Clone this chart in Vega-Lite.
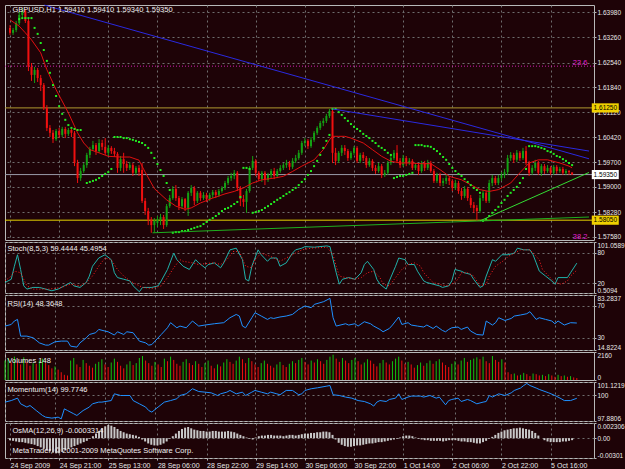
{
"$schema":"https://vega.github.io/schema/vega-lite/v6.json",
"background":"#1e0307",
"padding":{"left":2,"top":2,"right":0,"bottom":0},
"spacing":2,
"bounds":"flush",
"resolve":{"scale":{"x":"independent","y":"independent"}},
"config":{
 "view":{"stroke":"#b8b8b8","strokeWidth":1,"fill":null},
 "axis":{"title":null,"domain":false,"grid":true,"gridColor":"#6e6e6e","gridDash":[2,3],"gridWidth":1,"labelColor":"#e8e8e8","labelFont":"Liberation Sans, Arial, sans-serif","labelFontSize":6.5,"tickColor":"#b8b8b8","tickSize":2,"labelPadding":1,"labelOverlap":false,"labelLimit":40},
 "text":{"font":"Liberation Sans, Arial, sans-serif","fontSize":7.5,"color":"#f0f0f0"}
},
"datasets":{
"candles":[
{"i":0,"o":1.6353,"h":1.6361,"l":1.6333,"c":1.6339,"v":1500,"os":-0.0003},
{"i":1,"o":1.6339,"h":1.6353,"l":1.6333,"c":1.6347,"v":1700,"os":-0.0004},
{"i":2,"o":1.6347,"h":1.6373,"l":1.6341,"c":1.6367,"v":1350,"os":-0.0005},
{"i":3,"o":1.6367,"h":1.6398,"l":1.6361,"c":1.6390,"v":1800,"os":-0.0006},
{"i":4,"o":1.6390,"h":1.6410,"l":1.6384,"c":1.6401,"v":1450,"os":-0.0006},
{"i":5,"o":1.6401,"h":1.6407,"l":1.6367,"c":1.6373,"v":1200,"os":-0.0007},
{"i":6,"o":1.6373,"h":1.6381,"l":1.6230,"c":1.6242,"v":1750,"os":-0.0008},
{"i":7,"o":1.6242,"h":1.6253,"l":1.6202,"c":1.6219,"v":1400,"os":-0.0009},
{"i":8,"o":1.6219,"h":1.6242,"l":1.6196,"c":1.6233,"v":1100,"os":-0.0010},
{"i":9,"o":1.6233,"h":1.6239,"l":1.6199,"c":1.6210,"v":1300,"os":-0.0012},
{"i":10,"o":1.6210,"h":1.6219,"l":1.6173,"c":1.6190,"v":1250,"os":-0.0014},
{"i":11,"o":1.6190,"h":1.6196,"l":1.6119,"c":1.6125,"v":1500,"os":-0.0016},
{"i":12,"o":1.6125,"h":1.6133,"l":1.6059,"c":1.6068,"v":1650,"os":-0.0018},
{"i":13,"o":1.6068,"h":1.6076,"l":1.6042,"c":1.6054,"v":1300,"os":-0.0020},
{"i":14,"o":1.6054,"h":1.6062,"l":1.6025,"c":1.6036,"v":1150,"os":-0.0022},
{"i":15,"o":1.6036,"h":1.6065,"l":1.6031,"c":1.6059,"v":900,"os":-0.0023},
{"i":16,"o":1.6059,"h":1.6068,"l":1.6039,"c":1.6048,"v":1050,"os":-0.0023},
{"i":17,"o":1.6048,"h":1.6071,"l":1.6042,"c":1.6065,"v":800,"os":-0.0021},
{"i":18,"o":1.6065,"h":1.6071,"l":1.6039,"c":1.6051,"v":600,"os":-0.0018},
{"i":19,"o":1.6051,"h":1.6068,"l":1.6045,"c":1.6062,"v":400,"os":-0.0016},
{"i":20,"o":1.6062,"h":1.6065,"l":1.6042,"c":1.6054,"v":350,"os":-0.0014},
{"i":21,"o":1.6054,"h":1.6059,"l":1.5959,"c":1.5968,"v":1500,"os":-0.0012},
{"i":22,"o":1.5968,"h":1.5977,"l":1.5911,"c":1.5925,"v":1700,"os":-0.0010},
{"i":23,"o":1.5925,"h":1.5954,"l":1.5917,"c":1.5945,"v":1200,"os":-0.0008},
{"i":24,"o":1.5945,"h":1.5968,"l":1.5940,"c":1.5962,"v":1000,"os":-0.0006},
{"i":25,"o":1.5962,"h":1.5997,"l":1.5954,"c":1.5991,"v":1550,"os":-0.0004},
{"i":26,"o":1.5991,"h":1.6014,"l":1.5982,"c":1.6008,"v":1300,"os":-0.0001},
{"i":27,"o":1.6008,"h":1.6031,"l":1.6002,"c":1.6019,"v":1100,"os":0.0003},
{"i":28,"o":1.6019,"h":1.6025,"l":1.5991,"c":1.6002,"v":950,"os":0.0007},
{"i":29,"o":1.6002,"h":1.6036,"l":1.5997,"c":1.6025,"v":1250,"os":0.0011},
{"i":30,"o":1.6025,"h":1.6034,"l":1.6005,"c":1.6014,"v":1400,"os":0.0015},
{"i":31,"o":1.6014,"h":1.6039,"l":1.5991,"c":1.5997,"v":1600,"os":0.0018},
{"i":32,"o":1.5997,"h":1.6019,"l":1.5988,"c":1.6011,"v":1200,"os":0.0020},
{"i":33,"o":1.6011,"h":1.6016,"l":1.5994,"c":1.6002,"v":1000,"os":0.0019},
{"i":34,"o":1.6002,"h":1.6011,"l":1.5985,"c":1.5994,"v":1350,"os":0.0017},
{"i":35,"o":1.5994,"h":1.5999,"l":1.5940,"c":1.5954,"v":1650,"os":0.0014},
{"i":36,"o":1.5954,"h":1.5988,"l":1.5945,"c":1.5979,"v":1400,"os":0.0011},
{"i":37,"o":1.5979,"h":1.5997,"l":1.5940,"c":1.5965,"v":1100,"os":0.0009},
{"i":38,"o":1.5965,"h":1.5974,"l":1.5945,"c":1.5954,"v":900,"os":0.0007},
{"i":39,"o":1.5954,"h":1.5971,"l":1.5948,"c":1.5962,"v":1200,"os":0.0006},
{"i":40,"o":1.5962,"h":1.5968,"l":1.5931,"c":1.5940,"v":1450,"os":0.0005},
{"i":41,"o":1.5940,"h":1.5959,"l":1.5934,"c":1.5954,"v":1150,"os":0.0004},
{"i":42,"o":1.5954,"h":1.5962,"l":1.5931,"c":1.5942,"v":1300,"os":0.0002},
{"i":43,"o":1.5948,"h":1.5968,"l":1.5854,"c":1.5860,"v":1700,"os":-0.0002},
{"i":44,"o":1.5860,"h":1.5868,"l":1.5820,"c":1.5831,"v":1850,"os":-0.0005},
{"i":45,"o":1.5831,"h":1.5840,"l":1.5791,"c":1.5806,"v":1500,"os":-0.0008},
{"i":46,"o":1.5806,"h":1.5814,"l":1.5769,"c":1.5791,"v":1300,"os":-0.0010},
{"i":47,"o":1.5791,"h":1.5811,"l":1.5771,"c":1.5803,"v":1100,"os":-0.0011},
{"i":48,"o":1.5797,"h":1.5817,"l":1.5786,"c":1.5808,"v":1400,"os":-0.0011},
{"i":49,"o":1.5806,"h":1.5823,"l":1.5791,"c":1.5814,"v":1200,"os":-0.0010},
{"i":50,"o":1.5814,"h":1.5820,"l":1.5780,"c":1.5791,"v":1000,"os":-0.0008},
{"i":51,"o":1.5791,"h":1.5851,"l":1.5786,"c":1.5845,"v":1650,"os":-0.0005},
{"i":52,"o":1.5845,"h":1.5877,"l":1.5840,"c":1.5868,"v":1450,"os":-0.0001},
{"i":53,"o":1.5868,"h":1.5902,"l":1.5863,"c":1.5894,"v":1800,"os":0.0003},
{"i":54,"o":1.5894,"h":1.5905,"l":1.5860,"c":1.5868,"v":1550,"os":0.0007},
{"i":55,"o":1.5868,"h":1.5874,"l":1.5834,"c":1.5845,"v":1250,"os":0.0011},
{"i":56,"o":1.5845,"h":1.5871,"l":1.5837,"c":1.5865,"v":1100,"os":0.0014},
{"i":57,"o":1.5865,"h":1.5868,"l":1.5831,"c":1.5840,"v":1400,"os":0.0016},
{"i":58,"o":1.5840,"h":1.5888,"l":1.5817,"c":1.5883,"v":1600,"os":0.0017},
{"i":59,"o":1.5883,"h":1.5905,"l":1.5874,"c":1.5897,"v":1300,"os":0.0015},
{"i":60,"o":1.5897,"h":1.5902,"l":1.5848,"c":1.5860,"v":1150,"os":0.0013},
{"i":61,"o":1.5860,"h":1.5888,"l":1.5854,"c":1.5883,"v":1450,"os":0.0012},
{"i":62,"o":1.5883,"h":1.5888,"l":1.5860,"c":1.5868,"v":1250,"os":0.0011},
{"i":63,"o":1.5868,"h":1.5885,"l":1.5863,"c":1.5877,"v":1000,"os":0.0011},
{"i":64,"o":1.5877,"h":1.5883,"l":1.5857,"c":1.5865,"v":1300,"os":0.0010},
{"i":65,"o":1.5865,"h":1.5883,"l":1.5860,"c":1.5877,"v":1500,"os":0.0010},
{"i":66,"o":1.5877,"h":1.5891,"l":1.5868,"c":1.5885,"v":1100,"os":0.0011},
{"i":67,"o":1.5885,"h":1.5891,"l":1.5868,"c":1.5877,"v":900,"os":0.0011},
{"i":68,"o":1.5877,"h":1.5894,"l":1.5871,"c":1.5888,"v":1200,"os":0.0010},
{"i":69,"o":1.5888,"h":1.5902,"l":1.5883,"c":1.5897,"v":1050,"os":0.0010},
{"i":70,"o":1.5897,"h":1.5917,"l":1.5891,"c":1.5911,"v":1350,"os":0.0010},
{"i":71,"o":1.5911,"h":1.5931,"l":1.5905,"c":1.5925,"v":1600,"os":0.0011},
{"i":72,"o":1.5925,"h":1.5940,"l":1.5917,"c":1.5931,"v":1400,"os":0.0010},
{"i":73,"o":1.5931,"h":1.5948,"l":1.5922,"c":1.5940,"v":1250,"os":0.0009},
{"i":74,"o":1.5940,"h":1.5945,"l":1.5888,"c":1.5897,"v":1500,"os":0.0007},
{"i":75,"o":1.5897,"h":1.5902,"l":1.5845,"c":1.5865,"v":1800,"os":0.0005},
{"i":76,"o":1.5865,"h":1.5877,"l":1.5843,"c":1.5857,"v":1600,"os":0.0003},
{"i":77,"o":1.5857,"h":1.5894,"l":1.5826,"c":1.5888,"v":1300,"os":0.0001},
{"i":78,"o":1.5888,"h":1.5959,"l":1.5883,"c":1.5954,"v":1700,"os":-0.0001},
{"i":79,"o":1.5954,"h":1.5988,"l":1.5948,"c":1.5974,"v":1450,"os":-0.0002},
{"i":80,"o":1.5974,"h":1.5979,"l":1.5931,"c":1.5940,"v":1200,"os":0.0001},
{"i":81,"o":1.5940,"h":1.5945,"l":1.5917,"c":1.5922,"v":1000,"os":0.0003},
{"i":82,"o":1.5922,"h":1.5945,"l":1.5914,"c":1.5940,"v":1300,"os":0.0004},
{"i":83,"o":1.5940,"h":1.5945,"l":1.5905,"c":1.5920,"v":1500,"os":0.0004},
{"i":84,"o":1.5920,"h":1.5940,"l":1.5914,"c":1.5934,"v":1250,"os":0.0005},
{"i":85,"o":1.5934,"h":1.5951,"l":1.5925,"c":1.5945,"v":1100,"os":0.0005},
{"i":86,"o":1.5945,"h":1.5954,"l":1.5922,"c":1.5931,"v":950,"os":0.0004},
{"i":87,"o":1.5931,"h":1.5951,"l":1.5925,"c":1.5945,"v":1200,"os":0.0004},
{"i":88,"o":1.5945,"h":1.5962,"l":1.5940,"c":1.5954,"v":1400,"os":0.0004},
{"i":89,"o":1.5954,"h":1.5968,"l":1.5948,"c":1.5962,"v":1150,"os":0.0003},
{"i":90,"o":1.5962,"h":1.5977,"l":1.5954,"c":1.5968,"v":1000,"os":0.0004},
{"i":91,"o":1.5968,"h":1.5974,"l":1.5948,"c":1.5957,"v":1250,"os":0.0005},
{"i":92,"o":1.5957,"h":1.5982,"l":1.5951,"c":1.5974,"v":1450,"os":0.0005},
{"i":93,"o":1.5974,"h":1.5991,"l":1.5968,"c":1.5982,"v":1300,"os":0.0004},
{"i":94,"o":1.5982,"h":1.6005,"l":1.5977,"c":1.5997,"v":1550,"os":0.0005},
{"i":95,"o":1.5997,"h":1.6031,"l":1.5991,"c":1.6025,"v":1700,"os":0.0006},
{"i":96,"o":1.6025,"h":1.6039,"l":1.6016,"c":1.6031,"v":1400,"os":0.0007},
{"i":97,"o":1.6031,"h":1.6036,"l":1.6008,"c":1.6016,"v":1200,"os":0.0007},
{"i":98,"o":1.6016,"h":1.6042,"l":1.6011,"c":1.6034,"v":1500,"os":0.0008},
{"i":99,"o":1.6034,"h":1.6059,"l":1.6028,"c":1.6054,"v":1350,"os":0.0008},
{"i":100,"o":1.6054,"h":1.6073,"l":1.6048,"c":1.6068,"v":1600,"os":0.0009},
{"i":101,"o":1.6068,"h":1.6088,"l":1.6062,"c":1.6082,"v":1450,"os":0.0009},
{"i":102,"o":1.6082,"h":1.6096,"l":1.6073,"c":1.6088,"v":1250,"os":0.0010},
{"i":103,"o":1.6088,"h":1.6108,"l":1.6082,"c":1.6102,"v":1550,"os":0.0010},
{"i":104,"o":1.6102,"h":1.6122,"l":1.6096,"c":1.6116,"v":1800,"os":0.0009},
{"i":105,"o":1.6116,"h":1.6122,"l":1.5968,"c":1.5997,"v":1950,"os":0.0005},
{"i":106,"o":1.5997,"h":1.6011,"l":1.5962,"c":1.5974,"v":1650,"os":-0.0002},
{"i":107,"o":1.5974,"h":1.6002,"l":1.5968,"c":1.5997,"v":1400,"os":-0.0007},
{"i":108,"o":1.5997,"h":1.6019,"l":1.5988,"c":1.6011,"v":1700,"os":-0.0010},
{"i":109,"o":1.6011,"h":1.6019,"l":1.5991,"c":1.6002,"v":1500,"os":-0.0012},
{"i":110,"o":1.6002,"h":1.6008,"l":1.5974,"c":1.5982,"v":1300,"os":-0.0013},
{"i":111,"o":1.5982,"h":1.6002,"l":1.5977,"c":1.5997,"v":1550,"os":-0.0013},
{"i":112,"o":1.5997,"h":1.6016,"l":1.5991,"c":1.6011,"v":1700,"os":-0.0012},
{"i":113,"o":1.6011,"h":1.6016,"l":1.5968,"c":1.5974,"v":1450,"os":-0.0011},
{"i":114,"o":1.5974,"h":1.5997,"l":1.5968,"c":1.5991,"v":1200,"os":-0.0011},
{"i":115,"o":1.5991,"h":1.5999,"l":1.5974,"c":1.5982,"v":1350,"os":-0.0010},
{"i":116,"o":1.5982,"h":1.5988,"l":1.5954,"c":1.5962,"v":1600,"os":-0.0009},
{"i":117,"o":1.5962,"h":1.5982,"l":1.5957,"c":1.5974,"v":1500,"os":-0.0008},
{"i":118,"o":1.5974,"h":1.5979,"l":1.5945,"c":1.5954,"v":1250,"os":-0.0008},
{"i":119,"o":1.5954,"h":1.5962,"l":1.5937,"c":1.5945,"v":1050,"os":-0.0007},
{"i":120,"o":1.5945,"h":1.5968,"l":1.5940,"c":1.5959,"v":1300,"os":-0.0006},
{"i":121,"o":1.5959,"h":1.5965,"l":1.5925,"c":1.5934,"v":1550,"os":-0.0006},
{"i":122,"o":1.5934,"h":1.5948,"l":1.5928,"c":1.5940,"v":1350,"os":-0.0005},
{"i":123,"o":1.5940,"h":1.5974,"l":1.5934,"c":1.5968,"v":1200,"os":-0.0004},
{"i":124,"o":1.5968,"h":1.5991,"l":1.5962,"c":1.5982,"v":1450,"os":-0.0003},
{"i":125,"o":1.5982,"h":1.6005,"l":1.5977,"c":1.5997,"v":1650,"os":-0.0002},
{"i":126,"o":1.5997,"h":1.6019,"l":1.5968,"c":1.5974,"v":1800,"os":-0.0001},
{"i":127,"o":1.5974,"h":1.5982,"l":1.5954,"c":1.5962,"v":1500,"os":0.0001},
{"i":128,"o":1.5962,"h":1.5991,"l":1.5957,"c":1.5982,"v":1250,"os":0.0003},
{"i":129,"o":1.5982,"h":1.5988,"l":1.5959,"c":1.5968,"v":1400,"os":0.0004},
{"i":130,"o":1.5968,"h":1.5982,"l":1.5962,"c":1.5974,"v":1200,"os":0.0004},
{"i":131,"o":1.5974,"h":1.5979,"l":1.5948,"c":1.5954,"v":950,"os":0.0003},
{"i":132,"o":1.5954,"h":1.5968,"l":1.5948,"c":1.5962,"v":1150,"os":0.0001},
{"i":133,"o":1.5962,"h":1.5968,"l":1.5934,"c":1.5945,"v":1350,"os":-0.0001},
{"i":134,"o":1.5945,"h":1.5974,"l":1.5940,"c":1.5968,"v":1100,"os":-0.0002},
{"i":135,"o":1.5968,"h":1.5974,"l":1.5945,"c":1.5954,"v":1300,"os":-0.0003},
{"i":136,"o":1.5954,"h":1.5977,"l":1.5948,"c":1.5968,"v":1500,"os":-0.0003},
{"i":137,"o":1.5968,"h":1.5974,"l":1.5940,"c":1.5945,"v":1250,"os":-0.0004},
{"i":138,"o":1.5945,"h":1.5951,"l":1.5911,"c":1.5917,"v":1450,"os":-0.0004},
{"i":139,"o":1.5917,"h":1.5940,"l":1.5911,"c":1.5934,"v":1600,"os":-0.0004},
{"i":140,"o":1.5934,"h":1.5940,"l":1.5902,"c":1.5911,"v":1350,"os":-0.0004},
{"i":141,"o":1.5911,"h":1.5925,"l":1.5902,"c":1.5917,"v":1150,"os":-0.0005},
{"i":142,"o":1.5917,"h":1.5934,"l":1.5908,"c":1.5925,"v":1000,"os":-0.0004},
{"i":143,"o":1.5925,"h":1.5931,"l":1.5905,"c":1.5917,"v":1250,"os":-0.0003},
{"i":144,"o":1.5917,"h":1.5922,"l":1.5888,"c":1.5897,"v":1450,"os":-0.0003},
{"i":145,"o":1.5897,"h":1.5920,"l":1.5891,"c":1.5911,"v":1200,"os":-0.0003},
{"i":146,"o":1.5911,"h":1.5917,"l":1.5880,"c":1.5888,"v":1500,"os":-0.0004},
{"i":147,"o":1.5888,"h":1.5897,"l":1.5863,"c":1.5874,"v":1700,"os":-0.0005},
{"i":148,"o":1.5874,"h":1.5902,"l":1.5868,"c":1.5894,"v":1400,"os":-0.0005},
{"i":149,"o":1.5894,"h":1.5900,"l":1.5860,"c":1.5868,"v":1550,"os":-0.0006},
{"i":150,"o":1.5868,"h":1.5877,"l":1.5840,"c":1.5848,"v":1650,"os":-0.0006},
{"i":151,"o":1.5848,"h":1.5857,"l":1.5826,"c":1.5840,"v":1750,"os":-0.0007},
{"i":152,"o":1.5840,"h":1.5848,"l":1.5803,"c":1.5831,"v":1600,"os":-0.0008},
{"i":153,"o":1.5831,"h":1.5877,"l":1.5826,"c":1.5868,"v":1800,"os":-0.0008},
{"i":154,"o":1.5868,"h":1.5891,"l":1.5860,"c":1.5883,"v":1450,"os":-0.0006},
{"i":155,"o":1.5883,"h":1.5888,"l":1.5854,"c":1.5860,"v":1300,"os":-0.0004},
{"i":156,"o":1.5860,"h":1.5920,"l":1.5854,"c":1.5911,"v":1850,"os":-0.0001},
{"i":157,"o":1.5911,"h":1.5934,"l":1.5902,"c":1.5925,"v":1550,"os":0.0002},
{"i":158,"o":1.5925,"h":1.5931,"l":1.5905,"c":1.5911,"v":1400,"os":0.0005},
{"i":159,"o":1.5911,"h":1.5934,"l":1.5905,"c":1.5925,"v":1600,"os":0.0008},
{"i":160,"o":1.5925,"h":1.5942,"l":1.5917,"c":1.5934,"v":1350,"os":0.0010},
{"i":161,"o":1.5934,"h":1.5951,"l":1.5925,"c":1.5942,"v":600,"os":0.0012},
{"i":162,"o":1.5942,"h":1.5991,"l":1.5934,"c":1.5982,"v":450,"os":0.0013},
{"i":163,"o":1.5982,"h":1.5999,"l":1.5974,"c":1.5991,"v":500,"os":0.0014},
{"i":164,"o":1.5991,"h":1.5997,"l":1.5968,"c":1.5977,"v":350,"os":0.0015},
{"i":165,"o":1.5977,"h":1.6005,"l":1.5971,"c":1.5997,"v":400,"os":0.0015},
{"i":166,"o":1.5997,"h":1.6002,"l":1.5974,"c":1.5982,"v":550,"os":0.0016},
{"i":167,"o":1.5982,"h":1.6011,"l":1.5977,"c":1.6002,"v":450,"os":0.0015},
{"i":168,"o":1.6002,"h":1.6016,"l":1.5962,"c":1.5968,"v":300,"os":0.0014},
{"i":169,"o":1.5968,"h":1.5974,"l":1.5931,"c":1.5940,"v":500,"os":0.0013},
{"i":170,"o":1.5940,"h":1.5962,"l":1.5934,"c":1.5954,"v":450,"os":0.0011},
{"i":171,"o":1.5954,"h":1.5977,"l":1.5945,"c":1.5968,"v":350,"os":0.0008},
{"i":172,"o":1.5968,"h":1.5974,"l":1.5934,"c":1.5940,"v":400,"os":0.0004},
{"i":173,"o":1.5940,"h":1.5965,"l":1.5931,"c":1.5959,"v":300,"os":0.0000},
{"i":174,"o":1.5959,"h":1.5965,"l":1.5937,"c":1.5945,"v":450,"os":-0.0003},
{"i":175,"o":1.5945,"h":1.5962,"l":1.5940,"c":1.5954,"v":350,"os":-0.0005},
{"i":176,"o":1.5954,"h":1.5959,"l":1.5934,"c":1.5940,"v":250,"os":-0.0006},
{"i":177,"o":1.5940,"h":1.5962,"l":1.5934,"c":1.5957,"v":400,"os":-0.0006},
{"i":178,"o":1.5957,"h":1.5962,"l":1.5937,"c":1.5945,"v":300,"os":-0.0006},
{"i":179,"o":1.5945,"h":1.5957,"l":1.5940,"c":1.5951,"v":350,"os":-0.0006},
{"i":180,"o":1.5951,"h":1.5957,"l":1.5934,"c":1.5940,"v":250,"os":-0.0005},
{"i":181,"o":1.5940,"h":1.5951,"l":1.5934,"c":1.5945,"v":300,"os":-0.0005},
{"i":182,"o":1.5945,"h":1.5948,"l":1.5934,"c":1.5942,"v":200,"os":-0.0004},
{"i":183,"o":1.5941,"h":1.5941,"l":1.5934,"c":1.5935,"v":148,"os":-0.0003}
],
"ma":[
{"i":0,"p":1.6376},{"i":3,"p":1.6358},{"i":5,"p":1.6339},{"i":7,"p":1.6319},{"i":10,"p":1.6282},{"i":12,"p":1.6234},{"i":15,"p":1.6177},{"i":19,"p":1.6111},{"i":22,"p":1.6054},{"i":24,"p":1.6025},{"i":26,"p":1.6006},{"i":29,"p":1.5997},{"i":32,"p":1.5987},{"i":36,"p":1.5985},{"i":39,"p":1.5985},{"i":42,"p":1.5976},{"i":44,"p":1.5942},{"i":47,"p":1.5895},{"i":51,"p":1.5863},{"i":54,"p":1.5845},{"i":57,"p":1.5836},{"i":59,"p":1.5840},{"i":62,"p":1.5854},{"i":66,"p":1.5868},{"i":70,"p":1.5880},{"i":73,"p":1.5887},{"i":76,"p":1.5897},{"i":79,"p":1.5911},{"i":82,"p":1.5920},{"i":86,"p":1.5925},{"i":89,"p":1.5930},{"i":92,"p":1.5944},{"i":95,"p":1.5959},{"i":99,"p":1.5977},{"i":102,"p":1.6006},{"i":104,"p":1.6034},{"i":105,"p":1.6044},{"i":107,"p":1.6044},{"i":109,"p":1.6044},{"i":111,"p":1.6039},{"i":115,"p":1.6025},{"i":118,"p":1.6006},{"i":121,"p":1.5987},{"i":124,"p":1.5973},{"i":127,"p":1.5968},{"i":130,"p":1.5968},{"i":134,"p":1.5966},{"i":137,"p":1.5966},{"i":140,"p":1.5949},{"i":143,"p":1.5930},{"i":147,"p":1.5920},{"i":150,"p":1.5906},{"i":153,"p":1.5892},{"i":156,"p":1.5887},{"i":159,"p":1.5892},{"i":163,"p":1.5911},{"i":166,"p":1.5940},{"i":169,"p":1.5968},{"i":172,"p":1.5977},{"i":175,"p":1.5977},{"i":179,"p":1.5968},{"i":182,"p":1.5959},{"i":183,"p":1.5954}
],
"sar":[
{"i":3,"p":1.6378},{"i":4,"p":1.6381},{"i":5,"p":1.6381},{"i":6,"p":1.6381},{"i":7,"p":1.6381},
{"i":8,"p":1.6353},{"i":9,"p":1.6336},{"i":10,"p":1.6310},{"i":11,"p":1.6290},{"i":12,"p":1.6259},{"i":13,"p":1.6225},{"i":14,"p":1.6190},{"i":15,"p":1.6159},{"i":16,"p":1.6130},{"i":17,"p":1.6108},{"i":18,"p":1.6091},{"i":19,"p":1.6076},{"i":20,"p":1.6068},{"i":21,"p":1.6065},{"i":22,"p":1.6062},{"i":23,"p":1.6062},
{"i":25,"p":1.5911},{"i":26,"p":1.5914},{"i":27,"p":1.5917},{"i":28,"p":1.5920},{"i":29,"p":1.5925},{"i":30,"p":1.5931},{"i":31,"p":1.5937},{"i":32,"p":1.5942},{"i":33,"p":1.5951},
{"i":34,"p":1.6042},{"i":35,"p":1.6042},{"i":36,"p":1.6042},{"i":37,"p":1.6039},{"i":38,"p":1.6039},{"i":39,"p":1.6036},{"i":40,"p":1.6034},{"i":41,"p":1.6031},{"i":42,"p":1.6028},{"i":43,"p":1.6025},{"i":44,"p":1.6019},{"i":45,"p":1.6011},{"i":46,"p":1.5997},{"i":47,"p":1.5982},{"i":48,"p":1.5965},{"i":49,"p":1.5948},{"i":50,"p":1.5931},{"i":51,"p":1.5911},{"i":52,"p":1.5891},
{"i":53,"p":1.5769},{"i":54,"p":1.5771},{"i":55,"p":1.5771},{"i":56,"p":1.5774},{"i":57,"p":1.5774},{"i":58,"p":1.5777},{"i":59,"p":1.5780},{"i":60,"p":1.5783},{"i":61,"p":1.5786},{"i":62,"p":1.5788},{"i":63,"p":1.5794},{"i":64,"p":1.5800},{"i":65,"p":1.5806},{"i":66,"p":1.5811},{"i":67,"p":1.5817},{"i":68,"p":1.5823},{"i":69,"p":1.5831},{"i":70,"p":1.5837},{"i":71,"p":1.5840},{"i":72,"p":1.5845},{"i":73,"p":1.5851},{"i":74,"p":1.5857},{"i":75,"p":1.5871},
{"i":76,"p":1.5954},{"i":77,"p":1.5954},{"i":78,"p":1.5951},
{"i":79,"p":1.5826},{"i":80,"p":1.5828},{"i":81,"p":1.5831},{"i":82,"p":1.5834},{"i":83,"p":1.5840},{"i":84,"p":1.5845},{"i":85,"p":1.5851},{"i":86,"p":1.5857},{"i":87,"p":1.5863},{"i":88,"p":1.5868},{"i":89,"p":1.5874},{"i":90,"p":1.5880},{"i":91,"p":1.5885},{"i":92,"p":1.5891},{"i":93,"p":1.5897},{"i":94,"p":1.5905},{"i":95,"p":1.5914},{"i":96,"p":1.5922},{"i":97,"p":1.5934},{"i":98,"p":1.5945},{"i":99,"p":1.5959},{"i":100,"p":1.5974},{"i":101,"p":1.5991},{"i":102,"p":1.6011},{"i":103,"p":1.6031},{"i":104,"p":1.6048},
{"i":105,"p":1.6122},{"i":106,"p":1.6122},{"i":107,"p":1.6113},{"i":108,"p":1.6105},{"i":109,"p":1.6096},{"i":110,"p":1.6088},{"i":111,"p":1.6079},{"i":112,"p":1.6071},{"i":113,"p":1.6065},{"i":114,"p":1.6059},{"i":115,"p":1.6051},{"i":116,"p":1.6045},{"i":117,"p":1.6039},{"i":118,"p":1.6031},{"i":119,"p":1.6025},{"i":120,"p":1.6016},{"i":121,"p":1.6011},{"i":122,"p":1.6005},{"i":123,"p":1.5997},{"i":124,"p":1.5991},
{"i":125,"p":1.5925},{"i":126,"p":1.5928},{"i":127,"p":1.5931},{"i":128,"p":1.5931},{"i":129,"p":1.5934},{"i":130,"p":1.5937},{"i":131,"p":1.5940},
{"i":132,"p":1.6019},{"i":133,"p":1.6019},{"i":134,"p":1.6019},{"i":135,"p":1.6016},{"i":136,"p":1.6016},{"i":137,"p":1.6014},{"i":138,"p":1.6008},{"i":139,"p":1.6002},{"i":140,"p":1.5994},{"i":141,"p":1.5985},{"i":142,"p":1.5977},{"i":143,"p":1.5965},{"i":144,"p":1.5954},{"i":145,"p":1.5945},{"i":146,"p":1.5937},{"i":147,"p":1.5931},{"i":148,"p":1.5922},{"i":149,"p":1.5914},{"i":150,"p":1.5905},{"i":151,"p":1.5897},{"i":152,"p":1.5891},{"i":153,"p":1.5883},
{"i":154,"p":1.5803},{"i":155,"p":1.5808},{"i":156,"p":1.5817},{"i":157,"p":1.5826},{"i":158,"p":1.5834},{"i":159,"p":1.5843},{"i":160,"p":1.5854},{"i":161,"p":1.5863},{"i":162,"p":1.5874},{"i":163,"p":1.5883},{"i":164,"p":1.5891},{"i":165,"p":1.5900},{"i":166,"p":1.5911},{"i":167,"p":1.5925},{"i":168,"p":1.5951},
{"i":169,"p":1.6016},{"i":170,"p":1.6016},{"i":171,"p":1.6016},{"i":172,"p":1.6014},{"i":173,"p":1.6011},{"i":174,"p":1.6008},{"i":175,"p":1.6002},{"i":176,"p":1.5999},{"i":177,"p":1.5994},{"i":178,"p":1.5988},{"i":179,"p":1.5985},{"i":180,"p":1.5979},{"i":181,"p":1.5974},{"i":182,"p":1.5968},{"i":183,"p":1.5962}
],
"trend":[
{"n":"A","i":11.2,"p":1.6418},{"n":"A","i":188.5,"p":1.5980},
{"n":"B","i":105,"p":1.6122},{"n":"B","i":188.5,"p":1.6002},
{"n":"C","i":46.4,"p":1.5769},{"n":"C","i":188.5,"p":1.5814},
{"n":"D","i":153,"p":1.5803},{"n":"D","i":188.5,"p":1.5941}
],
"levels":[
{"p":1.6125,"t":"1.61250","k":"a"},
{"p":1.5935,"t":"1.59350","k":"bid"},
{"p":1.5805,"t":"1.58050","k":"b"}
],
"stm":[
{"i":0,"v":21.2},{"i":2,"v":27.6},{"i":3,"v":53.3},{"i":4,"v":75.9},{"i":5,"v":46.9},{"i":6,"v":14.6},{"i":7,"v":8.2},{"i":9,"v":11.5},{"i":11,"v":11.5},{"i":13,"v":8.2},{"i":15,"v":4.9},{"i":17,"v":8.2},{"i":19,"v":14.6},{"i":21,"v":21.2},{"i":22,"v":14.6},{"i":24,"v":11.5},{"i":26,"v":21.2},{"i":27,"v":33.9},{"i":28,"v":53.3},{"i":30,"v":69.5},{"i":32,"v":75.9},{"i":34,"v":66.2},{"i":35,"v":40.5},{"i":36,"v":30.9},{"i":38,"v":27.6},{"i":40,"v":24.3},{"i":41,"v":14.6},{"i":43,"v":3.0},{"i":44,"v":11.5},{"i":47,"v":11.5},{"i":49,"v":14.6},{"i":50,"v":24.3},{"i":52,"v":46.9},{"i":54,"v":79.2},{"i":55,"v":66.2},{"i":57,"v":53.3},{"i":59,"v":46.9},{"i":61,"v":66.2},{"i":62,"v":59.9},{"i":64,"v":50.2},{"i":65,"v":56.6},{"i":67,"v":59.9},{"i":69,"v":50.2},{"i":70,"v":59.9},{"i":72,"v":85.6},{"i":74,"v":88.9},{"i":76,"v":66.2},{"i":77,"v":27.6},{"i":78,"v":24.3},{"i":79,"v":53.3},{"i":81,"v":85.6},{"i":82,"v":75.9},{"i":84,"v":63.0},{"i":85,"v":69.5},{"i":87,"v":69.5},{"i":88,"v":53.3},{"i":90,"v":59.9},{"i":92,"v":79.2},{"i":93,"v":85.6},{"i":95,"v":88.9},{"i":96,"v":92.0},{"i":99,"v":90.8},{"i":103,"v":93.3},{"i":104,"v":92.0},{"i":105,"v":66.2},{"i":106,"v":40.5},{"i":107,"v":17.9},{"i":108,"v":27.6},{"i":110,"v":30.9},{"i":112,"v":27.6},{"i":114,"v":40.5},{"i":115,"v":56.6},{"i":116,"v":63.0},{"i":118,"v":46.9},{"i":119,"v":27.6},{"i":120,"v":17.9},{"i":122,"v":8.2},{"i":123,"v":24.3},{"i":125,"v":53.3},{"i":126,"v":69.5},{"i":128,"v":66.2},{"i":129,"v":56.6},{"i":131,"v":56.6},{"i":132,"v":43.6},{"i":134,"v":24.3},{"i":135,"v":21.2},{"i":137,"v":17.9},{"i":139,"v":14.6},{"i":140,"v":11.5},{"i":142,"v":14.6},{"i":143,"v":24.3},{"i":144,"v":46.9},{"i":146,"v":43.6},{"i":147,"v":40.5},{"i":149,"v":37.2},{"i":150,"v":27.6},{"i":152,"v":11.5},{"i":153,"v":14.6},{"i":154,"v":33.9},{"i":156,"v":66.2},{"i":157,"v":63.0},{"i":159,"v":75.9},{"i":161,"v":75.9},{"i":163,"v":79.2},{"i":164,"v":88.9},{"i":166,"v":85.6},{"i":168,"v":85.6},{"i":169,"v":75.9},{"i":170,"v":59.9},{"i":171,"v":43.6},{"i":173,"v":33.9},{"i":175,"v":24.3},{"i":176,"v":17.9},{"i":177,"v":30.9},{"i":180,"v":30.9},{"i":181,"v":40.5},{"i":183,"v":59.4}
],
"sts":[
{"i":0,"v":24.3},{"i":2,"v":33.9},{"i":3,"v":43.6},{"i":5,"v":40.5},{"i":7,"v":14.6},{"i":9,"v":8.2},{"i":11,"v":8.2},{"i":14,"v":8.2},{"i":18,"v":11.5},{"i":21,"v":17.9},{"i":24,"v":14.6},{"i":26,"v":21.2},{"i":28,"v":33.9},{"i":30,"v":53.3},{"i":32,"v":69.5},{"i":34,"v":66.2},{"i":36,"v":46.9},{"i":38,"v":33.9},{"i":40,"v":24.3},{"i":42,"v":17.9},{"i":44,"v":11.5},{"i":47,"v":9.5},{"i":50,"v":14.6},{"i":52,"v":30.9},{"i":54,"v":50.2},{"i":56,"v":66.2},{"i":57,"v":63.0},{"i":60,"v":59.9},{"i":62,"v":56.6},{"i":64,"v":58.5},{"i":67,"v":59.9},{"i":69,"v":56.6},{"i":71,"v":66.2},{"i":73,"v":82.3},{"i":75,"v":82.3},{"i":77,"v":53.3},{"i":79,"v":50.2},{"i":80,"v":66.2},{"i":82,"v":79.2},{"i":85,"v":72.6},{"i":87,"v":66.2},{"i":88,"v":63.0},{"i":90,"v":69.5},{"i":93,"v":79.2},{"i":95,"v":85.6},{"i":98,"v":88.9},{"i":103,"v":90.8},{"i":105,"v":75.9},{"i":106,"v":53.3},{"i":107,"v":33.9},{"i":109,"v":30.9},{"i":112,"v":27.6},{"i":114,"v":30.9},{"i":116,"v":40.5},{"i":118,"v":43.6},{"i":120,"v":30.9},{"i":121,"v":17.9},{"i":123,"v":14.6},{"i":125,"v":30.9},{"i":127,"v":46.9},{"i":129,"v":56.6},{"i":131,"v":59.9},{"i":133,"v":53.3},{"i":134,"v":40.5},{"i":136,"v":27.6},{"i":137,"v":21.2},{"i":140,"v":16.0},{"i":142,"v":14.6},{"i":143,"v":17.9},{"i":145,"v":27.6},{"i":146,"v":40.5},{"i":148,"v":40.5},{"i":150,"v":33.9},{"i":152,"v":14.6},{"i":154,"v":17.9},{"i":155,"v":33.9},{"i":157,"v":53.3},{"i":160,"v":66.2},{"i":161,"v":72.6},{"i":163,"v":79.2},{"i":165,"v":85.6},{"i":168,"v":85.6},{"i":169,"v":79.2},{"i":171,"v":66.2},{"i":172,"v":46.9},{"i":174,"v":33.9},{"i":176,"v":21.2},{"i":178,"v":17.9},{"i":180,"v":24.3},{"i":181,"v":33.9},{"i":183,"v":45.5}
],
"rsi":[
{"i":0,"v":44.6},{"i":2,"v":46.6},{"i":3,"v":50.9},{"i":4,"v":52.9},{"i":5,"v":32.1},{"i":7,"v":32.1},{"i":9,"v":30.0},{"i":11,"v":23.7},{"i":13,"v":20.9},{"i":14,"v":20.9},{"i":16,"v":25.0},{"i":18,"v":25.9},{"i":20,"v":25.9},{"i":21,"v":19.6},{"i":23,"v":18.4},{"i":24,"v":23.7},{"i":26,"v":30.0},{"i":27,"v":34.1},{"i":29,"v":36.3},{"i":30,"v":40.4},{"i":32,"v":38.4},{"i":33,"v":37.5},{"i":35,"v":33.4},{"i":36,"v":37.5},{"i":38,"v":34.1},{"i":39,"v":37.5},{"i":41,"v":36.3},{"i":43,"v":25.9},{"i":45,"v":23.7},{"i":46,"v":20.9},{"i":47,"v":21.6},{"i":48,"v":25.9},{"i":50,"v":34.1},{"i":52,"v":42.5},{"i":53,"v":48.8},{"i":55,"v":42.5},{"i":56,"v":44.6},{"i":58,"v":42.5},{"i":60,"v":50.9},{"i":62,"v":44.6},{"i":64,"v":45.9},{"i":67,"v":47.5},{"i":70,"v":48.8},{"i":72,"v":55.0},{"i":74,"v":59.1},{"i":75,"v":57.1},{"i":76,"v":44.6},{"i":77,"v":42.5},{"i":79,"v":55.0},{"i":80,"v":61.3},{"i":82,"v":57.1},{"i":84,"v":52.9},{"i":85,"v":55.0},{"i":86,"v":54.1},{"i":88,"v":55.9},{"i":90,"v":57.1},{"i":92,"v":59.1},{"i":94,"v":65.4},{"i":95,"v":67.5},{"i":96,"v":69.6},{"i":98,"v":67.5},{"i":99,"v":71.6},{"i":102,"v":75.0},{"i":104,"v":79.1},{"i":105,"v":55.0},{"i":106,"v":44.6},{"i":109,"v":47.5},{"i":110,"v":45.9},{"i":112,"v":47.5},{"i":113,"v":44.6},{"i":115,"v":50.0},{"i":117,"v":47.5},{"i":118,"v":44.6},{"i":120,"v":40.4},{"i":121,"v":37.5},{"i":123,"v":41.6},{"i":124,"v":45.9},{"i":126,"v":55.9},{"i":127,"v":46.6},{"i":129,"v":48.8},{"i":130,"v":45.9},{"i":132,"v":44.6},{"i":134,"v":43.4},{"i":135,"v":45.9},{"i":137,"v":41.6},{"i":138,"v":44.6},{"i":140,"v":39.1},{"i":141,"v":37.5},{"i":142,"v":40.4},{"i":143,"v":42.5},{"i":145,"v":43.4},{"i":146,"v":40.4},{"i":148,"v":43.4},{"i":149,"v":38.4},{"i":151,"v":34.1},{"i":153,"v":33.4},{"i":154,"v":50.9},{"i":156,"v":45.9},{"i":157,"v":48.8},{"i":158,"v":55.0},{"i":160,"v":51.6},{"i":162,"v":54.1},{"i":163,"v":57.1},{"i":165,"v":58.4},{"i":167,"v":60.0},{"i":168,"v":62.5},{"i":170,"v":52.9},{"i":171,"v":55.0},{"i":173,"v":52.9},{"i":175,"v":50.9},{"i":176,"v":47.5},{"i":177,"v":50.9},{"i":179,"v":45.9},{"i":181,"v":48.8},{"i":183,"v":48.4}
],
"mom":[
{"i":0,"v":99.45},{"i":2,"v":99.58},{"i":4,"v":99.78},{"i":5,"v":99.31},{"i":7,"v":99.04},{"i":8,"v":99.17},{"i":10,"v":98.75},{"i":12,"v":98.34},{"i":13,"v":98.20},{"i":15,"v":98.12},{"i":17,"v":98.20},{"i":18,"v":98.06},{"i":19,"v":98.89},{"i":20,"v":98.75},{"i":22,"v":98.48},{"i":23,"v":98.34},{"i":25,"v":98.75},{"i":27,"v":99.04},{"i":28,"v":99.31},{"i":30,"v":99.45},{"i":31,"v":99.45},{"i":34,"v":99.58},{"i":35,"v":100.14},{"i":37,"v":100.0},{"i":38,"v":100.0},{"i":40,"v":100.0},{"i":41,"v":99.58},{"i":43,"v":99.31},{"i":45,"v":99.04},{"i":46,"v":98.75},{"i":47,"v":98.62},{"i":49,"v":99.04},{"i":51,"v":99.45},{"i":53,"v":99.58},{"i":55,"v":99.73},{"i":56,"v":100.0},{"i":58,"v":100.14},{"i":60,"v":100.56},{"i":62,"v":100.33},{"i":64,"v":100.28},{"i":66,"v":100.22},{"i":68,"v":100.0},{"i":69,"v":100.14},{"i":71,"v":100.28},{"i":72,"v":100.42},{"i":74,"v":100.14},{"i":76,"v":100.28},{"i":77,"v":100.0},{"i":79,"v":100.28},{"i":80,"v":100.42},{"i":82,"v":100.28},{"i":84,"v":100.14},{"i":85,"v":100.28},{"i":87,"v":100.14},{"i":88,"v":100.06},{"i":90,"v":100.42},{"i":92,"v":100.42},{"i":94,"v":100.06},{"i":95,"v":100.14},{"i":96,"v":100.42},{"i":98,"v":100.56},{"i":100,"v":100.64},{"i":103,"v":100.78},{"i":104,"v":100.83},{"i":105,"v":100.06},{"i":107,"v":100.0},{"i":109,"v":99.87},{"i":111,"v":99.78},{"i":113,"v":99.58},{"i":115,"v":99.50},{"i":117,"v":99.31},{"i":118,"v":99.12},{"i":119,"v":99.45},{"i":120,"v":99.58},{"i":122,"v":99.50},{"i":123,"v":99.67},{"i":125,"v":99.78},{"i":126,"v":100.14},{"i":127,"v":99.67},{"i":129,"v":99.87},{"i":130,"v":99.95},{"i":133,"v":99.95},{"i":134,"v":99.87},{"i":136,"v":100.0},{"i":138,"v":99.78},{"i":139,"v":99.87},{"i":141,"v":99.23},{"i":142,"v":99.58},{"i":143,"v":99.67},{"i":145,"v":99.78},{"i":146,"v":99.50},{"i":148,"v":99.67},{"i":149,"v":99.58},{"i":151,"v":99.31},{"i":153,"v":99.45},{"i":154,"v":99.50},{"i":155,"v":100.0},{"i":156,"v":99.87},{"i":158,"v":100.14},{"i":160,"v":100.0},{"i":162,"v":100.22},{"i":163,"v":100.42},{"i":165,"v":100.62},{"i":166,"v":100.83},{"i":167,"v":101.0},{"i":168,"v":100.83},{"i":170,"v":100.62},{"i":171,"v":100.50},{"i":174,"v":100.22},{"i":176,"v":100.0},{"i":178,"v":99.73},{"i":179,"v":99.58},{"i":181,"v":99.58},{"i":183,"v":99.77}
]
},
"vconcat":[
{"width":589,"height":235,"layer":[
 {"data":{"name":"levels"},"mark":{"type":"rule","strokeWidth":1},"encoding":{
   "y":{"field":"p","type":"quantitative","scale":{"domain":[1.57485,1.64183],"nice":false,"zero":false},"axis":{"orient":"right","values":[1.6398,1.6326,1.6254,1.6184,1.6112,1.6042,1.597,1.59,1.5828,1.5758],"tickCount":100,"format":".5f","labelFlush":false,"labelOverlap":false}},
   "stroke":{"field":"k","type":"nominal","scale":{"domain":["a","bid","b"],"range":["#b09a30","#9a9aa8","#e6d400"]},"legend":null}}},
 {"data":{"values":[{}]},"mark":{"type":"rule","stroke":"#d020b0","strokeDash":[1,2],"strokeWidth":1},"encoding":{"y":{"datum":1.6244}}},
 {"data":{"name":"candles"},"mark":{"type":"rule","strokeWidth":1},"encoding":{
   "x":{"field":"i","type":"quantitative","scale":{"domain":[0,188.5],"nice":false,"zero":false},"axis":{"values":[0,16,32,48,64,80,96,112,128,144,160,176],"tickCount":100,"labels":false,"ticks":false}},
   "y":{"field":"l","type":"quantitative"},"y2":{"field":"h"},
   "color":{"condition":{"test":"datum.c >= datum.o","value":"#14a014"},"value":"#f01010"}}},
 {"data":{"name":"candles"},"mark":{"type":"bar","width":2},"encoding":{
   "x":{"field":"i","type":"quantitative"},
   "y":{"field":"o","type":"quantitative"},"y2":{"field":"c"},
   "color":{"condition":{"test":"datum.c >= datum.o","value":"#14a014"},"value":"#f01010"}}},
 {"data":{"name":"ma"},"mark":{"type":"line","color":"#e01010","strokeWidth":1},"encoding":{
   "x":{"field":"i","type":"quantitative"},"y":{"field":"p","type":"quantitative"}}},
 {"data":{"name":"sar"},"mark":{"type":"square","size":4,"filled":true,"color":"#22ee22","opacity":1},"encoding":{
   "x":{"field":"i","type":"quantitative"},"y":{"field":"p","type":"quantitative"}}},
 {"data":{"name":"trend"},"mark":{"type":"line","strokeWidth":1},"encoding":{
   "x":{"field":"i","type":"quantitative"},"y":{"field":"p","type":"quantitative"},"detail":{"field":"n"},
   "color":{"field":"n","type":"nominal","scale":{"domain":["A","B","C","D"],"range":["#2a2ae0","#2a2ae0","#1fb01f","#33dd33"]},"legend":null}}},
 {"data":{"values":[{}]},"mark":{"type":"text","align":"left","baseline":"middle"},"encoding":{"x":{"datum":0.8},"y":{"datum":1.6404},"text":{"value":"GBPUSD,H1  1.59410 1.59410 1.59340 1.59350"}}},
 {"data":{"values":[{}]},"mark":{"type":"text","align":"right","baseline":"middle","color":"#e020d0"},"encoding":{"x":{"datum":188.0},"y":{"datum":1.6254},"text":{"value":"23.6"}}},
 {"data":{"values":[{}]},"mark":{"type":"text","align":"right","baseline":"middle","color":"#e020d0"},"encoding":{"x":{"datum":188.0},"y":{"datum":1.5757},"text":{"value":"38.2"}}},
 {"data":{"name":"levels"},"mark":{"type":"point","shape":"M-1,-0.34H1V0.34H-1Z","size":729,"filled":true,"opacity":1,"strokeWidth":0},"encoding":{
   "x":{"datum":193.8},"y":{"field":"p","type":"quantitative"},
   "fill":{"field":"k","type":"nominal","scale":{"domain":["a","bid","b"],"range":["#f0d000","#ffffff","#f0d000"]},"legend":null}}},
 {"data":{"name":"levels"},"mark":{"type":"text","align":"left","baseline":"middle","color":"#000000","fontSize":6.5},"encoding":{
   "x":{"datum":190.0},"y":{"field":"p","type":"quantitative"},"text":{"field":"t"}}}
]},
{"width":589,"height":51,"layer":[
 {"data":{"name":"stm"},"mark":{"type":"line","color":"#20b2aa","strokeWidth":1},"encoding":{
   "x":{"field":"i","type":"quantitative","scale":{"domain":[0,188.5],"nice":false,"zero":false},"axis":{"values":[0,16,32,48,64,80,96,112,128,144,160,176],"tickCount":100,"labels":false,"ticks":false}},
   "y":{"field":"v","type":"quantitative","scale":{"domain":[0.5094,101.0589],"nice":false,"zero":false},"axis":{"orient":"right","values":[0.5094,20,80,101.0589],"tickCount":100,"labelExpr":"toString(datum.value)","labelFlush":true,"labelOverlap":false}}}},
 {"data":{"name":"sts"},"mark":{"type":"line","color":"#ff2020","strokeWidth":1,"strokeDash":[1,2]},"encoding":{
   "x":{"field":"i","type":"quantitative"},"y":{"field":"v","type":"quantitative"}}},
 {"data":{"values":[{}]},"mark":{"type":"text","align":"left","baseline":"middle"},"encoding":{"x":{"datum":0.8},"y":{"datum":87.3},"text":{"value":"Stoch(8,5,3) 59.4444 45.4954"}}}
]},
{"width":589,"height":55,"layer":[
 {"data":{"name":"rsi"},"mark":{"type":"line","color":"#1e90ff","strokeWidth":1},"encoding":{
   "x":{"field":"i","type":"quantitative","scale":{"domain":[0,188.5],"nice":false,"zero":false},"axis":{"values":[0,16,32,48,64,80,96,112,128,144,160,176],"tickCount":100,"labels":false,"ticks":false}},
   "y":{"field":"v","type":"quantitative","scale":{"domain":[14.8224,83.2837],"nice":false,"zero":false},"axis":{"orient":"right","values":[14.8224,30,70,83.2837],"tickCount":100,"labelExpr":"toString(datum.value)","labelFlush":true,"labelOverlap":false}}}},
 {"data":{"values":[{}]},"mark":{"type":"text","align":"left","baseline":"middle"},"encoding":{"x":{"datum":0.8},"y":{"datum":72.1},"text":{"value":"RSI(14) 48.3648"}}}
]},
{"width":589,"height":28,"layer":[
 {"data":{"name":"candles"},"transform":[{"window":[{"op":"lag","field":"v","as":"pv"}],"sort":[{"field":"i"}]}],"mark":{"type":"rule","strokeWidth":1},"encoding":{
   "x":{"field":"i","type":"quantitative","scale":{"domain":[0,188.5],"nice":false,"zero":false},"axis":{"values":[0,16,32,48,64,80,96,112,128,144,160,176],"tickCount":100,"labels":false,"ticks":false}},
   "y":{"field":"v","type":"quantitative","scale":{"domain":[0,2160],"nice":false,"zero":false},"axis":{"orient":"right","values":[0,2160],"tickCount":100,"labelExpr":"toString(datum.value)","labelFlush":true,"labelOverlap":false,"grid":false}},
   "y2":{"datum":0},
   "color":{"condition":{"test":"datum.v > datum.pv","value":"#10c010"},"value":"#f01010"}}},
 {"data":{"values":[{}]},"mark":{"type":"text","align":"left","baseline":"middle"},"encoding":{"x":{"datum":0.8},"y":{"datum":1466},"text":{"value":"Volumes 148"}}}
]},
{"width":589,"height":39,"layer":[
 {"data":{"name":"mom"},"mark":{"type":"line","color":"#1e90ff","strokeWidth":1},"encoding":{
   "x":{"field":"i","type":"quantitative","scale":{"domain":[0,188.5],"nice":false,"zero":false},"axis":{"values":[0,16,32,48,64,80,96,112,128,144,160,176],"tickCount":100,"labels":false,"ticks":false}},
   "y":{"field":"v","type":"quantitative","scale":{"domain":[97.8806,101.1219],"nice":false,"zero":false},"axis":{"orient":"right","values":[97.8806,100,101.1219],"tickCount":100,"labelExpr":"toString(datum.value)","labelFlush":true,"labelOverlap":false}}}},
 {"data":{"values":[{}]},"mark":{"type":"text","align":"left","baseline":"middle"},"encoding":{"x":{"datum":0.8},"y":{"datum":100.457},"text":{"value":"Momentum(14) 99.7746"}}}
]},
{"width":589,"height":35,"layer":[
 {"data":{"name":"candles"},"mark":{"type":"bar","width":2,"color":"#c8c8c8"},"encoding":{
   "x":{"field":"i","type":"quantitative","scale":{"domain":[0,188.5],"nice":false,"zero":false},"axis":{"values":[0,16,32,48,64,80,96,112,128,144,160,176],"tickCount":100,"labels":true,"ticks":true,"tickSize":2,"labelAlign":"left","labelBaseline":"top","labelPadding":1,"labelFlush":false,"labelOverlap":false,"labelLimit":80,"labelFontSize":7,"labelExpr":"['24 Sep 2009','24 Sep 21:00','25 Sep 13:00','28 Sep 06:00','28 Sep 22:00','29 Sep 14:00','30 Sep 06:00','30 Sep 22:00','1 Oct 14:00','2 Oct 06:00','2 Oct 22:00','5 Oct 16:00'][round(datum.value/16)]"}},
   "y":{"field":"os","type":"quantitative","scale":{"domain":[-0.00301,0.002306],"nice":false,"zero":false},"axis":{"orient":"right","values":[-0.00301,0,0.002306],"tickCount":100,"labelExpr":"datum.value == 0 ? '0.00' : toString(datum.value)","labelFlush":true,"labelOverlap":false}},
   "y2":{"datum":0}}},
 {"data":{"values":[{}]},"mark":{"type":"text","align":"left","baseline":"middle"},"encoding":{"x":{"datum":0.8},"y":{"datum":0.00109},"text":{"value":"OsMA(12,26,9) -0.0003314"}}},
 {"data":{"values":[{}]},"mark":{"type":"text","align":"left","baseline":"middle"},"encoding":{"x":{"datum":0.8},"y":{"datum":-0.00195},"text":{"value":"MetaTrader, © 2001-2009 MetaQuotes Software Corp."}}}
]}
]
}
